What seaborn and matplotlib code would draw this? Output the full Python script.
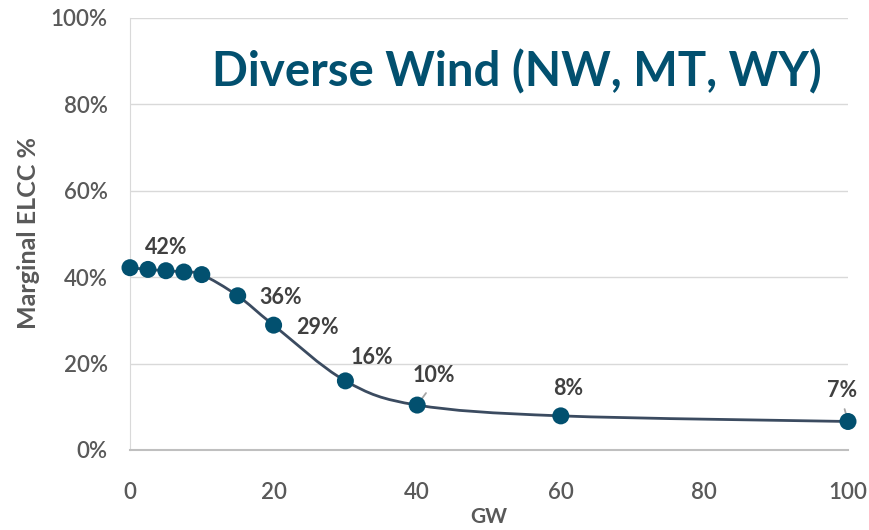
import numpy as np
import pandas as pd
import matplotlib
matplotlib.use("Agg")
import matplotlib.pyplot as plt
from matplotlib.path import Path
from matplotlib.patches import PathPatch
import seaborn as sns

sns.set_style("white")
plt.rcParams["font.family"] = ["Lato", "DejaVu Sans"]

# data
gw = [0, 2.5, 5, 7.5, 10, 15, 20, 30, 40, 60, 100]
elcc = [42.2, 41.8, 41.5, 41.2, 40.6, 35.7, 28.9, 16.0, 10.4, 7.9, 6.6]
labels = ["42%", "36%", "29%", "16%", "10%", "8%", "7%"]
label_idx = [0, 5, 6, 7, 8, 9, 10]
label_off = [(36, 20), (43, -2), (44, -2), (27, 23), (17, 30), (7, 27), (-6, 31)]
leader = [False, False, False, False, True, False, True]

df = pd.DataFrame({"GW": gw, "ELCC": elcc})

fig = plt.figure(figsize=(8.69, 5.3), dpi=100)
ax = fig.add_axes([130 / 869, 80 / 530, 718 / 869, 432 / 530])

# smoothed line (Catmull-Rom as cubic bezier)
p = df[["GW", "ELCC"]].to_numpy(dtype=float)
verts = [p[0]]
codes = [Path.MOVETO]
for i in range(len(p) - 1):
    p0 = p[i - 1] if i > 0 else p[i]
    p3 = p[i + 2] if i + 2 < len(p) else p[i + 1]
    c1 = p[i] + (p[i + 1] - p0) / 6
    c2 = p[i + 1] - (p3 - p[i]) / 6
    verts += [c1, c2, p[i + 1]]
    codes += [Path.CURVE4] * 3
ax.add_patch(PathPatch(Path(verts, codes), fill=False, edgecolor="#3b4b60",
                       lw=2.0, zorder=3, clip_on=False))

sns.scatterplot(data=df, x="GW", y="ELCC", ax=ax, s=150, color="#02506f",
                edgecolor="none", zorder=4, clip_on=False, legend=False)

for lab, i, off, ld in zip(labels, label_idx, label_off, leader):
    ax.annotate(lab, (gw[i], elcc[i]), xytext=off, textcoords="offset pixels",
                ha="center", va="center", fontsize=15.5, fontweight="bold",
                color="#404040", zorder=5)
    if ld:
        ax.annotate("", (gw[i], elcc[i]),
                    xytext=(off[0] * 0.4 + (2 if off[0] > 0 else -1), off[1] * 0.4),
                    textcoords="offset pixels",
                    arrowprops=dict(arrowstyle="-", color="#a6a6a6", lw=1.3,
                                    shrinkA=0, shrinkB=4), zorder=3)

ax.set_xlim(0, 100)
ax.set_ylim(0, 100)
ax.set_xticks([0, 20, 40, 60, 80, 100])
ax.set_yticks([0, 20, 40, 60, 80, 100])
ax.set_yticklabels([f"{v}%" for v in range(0, 101, 20)])
ax.grid(axis="y", color="#d9d9d9", lw=1)
ax.set_axisbelow(True)
for s in ["top", "right"]:
    ax.spines[s].set_visible(False)
ax.spines["left"].set_color("#d9d9d9")
ax.spines["bottom"].set_color("#bfbfbf")
ax.spines["bottom"].set_linewidth(1.5)
ax.tick_params(axis="both", length=0, labelsize=16, labelcolor="#595959")
ax.tick_params(axis="y", pad=16)
ax.tick_params(axis="x", pad=23)
for t in ax.get_xticklabels() + ax.get_yticklabels():
    t.set_fontweight("semibold")

ax.set_xlabel("GW", fontsize=15, fontweight="bold", color="#595959", labelpad=3)
ax.set_ylabel("Marginal ELCC %", fontsize=18, fontweight="bold", color="#595959")
ax.yaxis.label.set_va("center")
ax.yaxis.set_label_coords(28 / 869, 1 - 233 / 530, transform=fig.transFigure)

fig.text(517 / 869, 1 - 72 / 530, "Diverse Wind (NW, MT, WY)", ha="center",
         va="center", fontsize=34, fontweight="bold", color="#02506f")

fig.savefig("out.png", dpi=100, facecolor="white")
